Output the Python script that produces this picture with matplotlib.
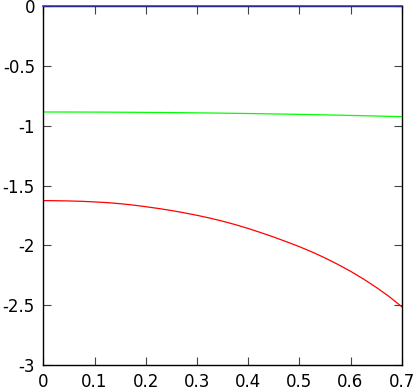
import matplotlib
matplotlib.use("Agg")
import matplotlib.pyplot as plt
from matplotlib.ticker import FuncFormatter

plt.rcParams['axes.unicode_minus'] = False

x = [0.0, 0.025, 0.05, 0.075, 0.1, 0.125, 0.15, 0.175, 0.2, 0.225, 0.25, 0.275,
     0.3, 0.325, 0.35, 0.375, 0.4, 0.425, 0.45, 0.475, 0.5, 0.525, 0.55, 0.575,
     0.6, 0.625, 0.65, 0.675, 0.7]
blue = [0.0] * len(x)
green = [-0.8840, -0.8841, -0.8842, -0.8845, -0.8848, -0.8852, -0.8858, -0.8864,
         -0.8872, -0.8880, -0.8890, -0.8900, -0.8912, -0.8924, -0.8938, -0.8952,
         -0.8967, -0.8984, -0.9001, -0.9020, -0.9039, -0.9059, -0.9081, -0.9103,
         -0.9127, -0.9151, -0.9176, -0.9203, -0.9230]
red = [-1.625, -1.626, -1.628, -1.631, -1.636, -1.642, -1.651, -1.662, -1.676,
       -1.691, -1.708, -1.727, -1.748, -1.771, -1.797, -1.826, -1.858, -1.893,
       -1.930, -1.969, -2.010, -2.055, -2.104, -2.158, -2.216, -2.280, -2.350,
       -2.426, -2.512]

xticks = [0, 0.1, 0.2, 0.3, 0.4, 0.5, 0.6, 0.7]
yticks = [0, -0.5, -1, -1.5, -2, -2.5, -3]

fig = plt.figure(figsize=(4.16, 3.91), dpi=100)
ax = fig.add_axes([43.3 / 416, 26 / 391, (401.7 - 43.3) / 416, (365 - 6.3) / 391])

ax.plot(x, red, color='#ff0000', lw=0.9)
ax.plot(x, green, color='#00ff00', lw=0.9)
ax.plot(x, blue, color='#3838c0', lw=1.1, clip_on=False, zorder=5)

ax.set_xlim(0, 0.7)
ax.set_ylim(-3, 0)
ax.set_xticks(xticks)
ax.set_yticks(yticks)
fmt = FuncFormatter(lambda v, p: '%g' % v)
ax.xaxis.set_major_formatter(fmt)
ax.yaxis.set_major_formatter(fmt)
ax.tick_params(direction='in', length=6, width=0.8, color='#444444',
               top=True, right=True, labelsize=12, pad=6)
for s in ax.spines.values():
    s.set_linewidth(1.0)
    s.set_color('black')

fig.savefig('out.png', dpi=100)
